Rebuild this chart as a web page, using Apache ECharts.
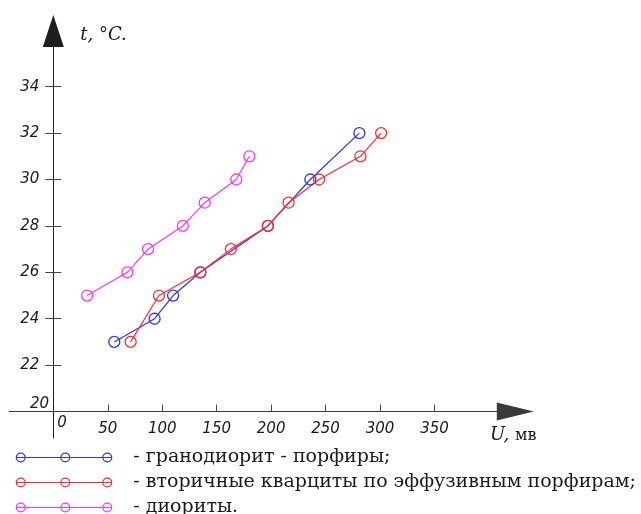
<!DOCTYPE html>
<html><head><meta charset="utf-8">
<script src="https://cdn.jsdelivr.net/npm/echarts@6/dist/echarts.min.js"></script>
<style>html,body{margin:0;padding:0;background:#fff}#c{width:641px;height:514px}</style>
</head><body><div id="c"></div>
<script>
const seriesNames = ['- гранодиорит - порфиры;', '- вторичные кварциты по эффузивным порфирам;', '- диориты.'];
const granodioriteU = [56, 93, 110, 135, 197, 236, 281];
const granodioriteT = [23, 24, 25, 26, 28, 30, 32];
const quartziteU = [71, 97, 135, 163, 197, 216, 244, 282, 301];
const quartziteT = [23, 25, 26, 27, 28, 29, 30, 31, 32];
const dioriteU = [31, 68, 87, 119, 139, 168, 180];
const dioriteT = [25, 26, 27, 28, 29, 30, 31];
const xTicks = [50, 100, 150, 200, 250, 300, 350];
const yTicks = [22, 24, 26, 28, 30, 32, 34];
const yBase = 20;            // temperature where the U axis crosses
const xAxisName = '{i|U,} {n|мв}';
const yAxisName = 't, °C.';
const colors = ['#3030ff', '#ff2b2b', '#ff33ff'];

const uData = [granodioriteU, quartziteU, dioriteU];
const tData = [granodioriteT, quartziteT, dioriteT];

function ring(cx) {
  const r = 5, ri = 3.8;
  return `M${cx - r},5 A${r},${r} 0 1,1 ${cx + r},5 A${r},${r} 0 1,1 ${cx - r},5 Z ` +
         `M${cx - ri},5 A${ri},${ri} 0 1,0 ${cx + ri},5 A${ri},${ri} 0 1,0 ${cx - ri},5 Z `;
}
const iconPath = 'path://' + 'M0,4.45 L96.6,4.45 L96.6,5.55 L0,5.55 Z ' + ring(5) + ring(49.6) + ring(91.6);

const labelFont = { fontFamily: 'DejaVu Sans', fontStyle: 'italic', fontSize: 15, color: '#1a1a1a' };
const tickColor = '#444';
const xMin = -40.4, xMax = 424.2, yMin = -1.14, yMax = 16.40;
const shift = v => v - yBase;

const chart = echarts.init(document.getElementById('c'), null, { renderer: 'canvas' });
chart.setOption({
  animation: false,
  backgroundColor: '#fff',
  grid: { left: 9.3, right: 125.7, top: 31, bottom: 76, containLabel: false, outerBoundsMode: 'none' },
  xAxis: [
    {
      type: 'value', min: xMin, max: xMax, position: 'bottom',
      axisLine: { show: true, onZero: true, onZeroAxisIndex: 0, symbol: ['none', 'triangle'], symbolSize: [18, 37],
        lineStyle: { color: '#3a3a3a', width: 1 } },
      axisTick: { show: true, inside: true, length: 7, customValues: xTicks, lineStyle: { color: tickColor } },
      axisLabel: Object.assign({ customValues: xTicks, margin: -16 }, labelFont),
      splitLine: { show: false },
      name: xAxisName, nameLocation: 'end', nameGap: -2, nameMoveOverlap: false,
      nameTextStyle: { align: 'center', verticalAlign: 'middle', padding: [48, 0, 0, 0],
        fontFamily: 'DejaVu Serif', fontSize: 18, color: '#1a1a1a',
        rich: { i: { fontFamily: 'DejaVu Serif', fontStyle: 'italic', fontSize: 18, color: '#1a1a1a' },
                n: { fontFamily: 'DejaVu Serif', fontSize: 16, color: '#1a1a1a' } } }
    },
    {
      type: 'value', min: xMin, max: xMax, position: 'bottom',
      axisLine: { show: true, onZero: true, onZeroAxisIndex: 0, lineStyle: { opacity: 0 } },
      axisTick: { show: false },
      axisLabel: Object.assign({ customValues: [0], margin: -22, align: 'left', padding: [0, 0, 0, 4] }, labelFont),
      splitLine: { show: false }
    }
  ],
  yAxis: [
    {
      type: 'value', min: yMin, max: yMax, position: 'left',
      axisLine: { show: true, onZero: true, onZeroAxisIndex: 0, symbol: ['none', 'triangle'], symbolSize: [21, 32],
        lineStyle: { color: '#1e1e1e', width: 1 } },
      axisTick: { show: true, inside: false, length: 8, customValues: yTicks.map(shift), lineStyle: { color: tickColor } },
      axisLabel: Object.assign({ customValues: yTicks.map(shift), margin: -30, formatter: v => String(Number(v) + yBase) }, labelFont),
      splitLine: { show: false },
      name: yAxisName, nameLocation: 'end', nameGap: -4, nameMoveOverlap: false,
      nameTextStyle: { align: 'left', verticalAlign: 'middle', padding: [0, 0, 0, 27],
        fontFamily: 'DejaVu Serif', fontStyle: 'italic', fontSize: 18, color: '#1a1a1a' }
    },
    {
      type: 'value', min: yMin, max: yMax, position: 'left',
      axisLine: { show: true, onZero: true, onZeroAxisIndex: 0, lineStyle: { opacity: 0 } },
      axisTick: { show: true, inside: true, length: 8, customValues: yTicks.map(shift), lineStyle: { color: tickColor } },
      axisLabel: Object.assign({ customValues: [shift(yBase)], margin: -39.7, verticalAlign: 'bottom', formatter: v => String(Number(v) + yBase) }, labelFont),
      splitLine: { show: false }
    }
  ],
  legend: {
    orient: 'vertical', left: 15.7, top: 448, height: 90, padding: 0, itemWidth: 96.6, itemHeight: 10, itemGap: 6,
    selectedMode: false, icon: iconPath,
    textStyle: { fontFamily: 'DejaVu Serif', fontSize: 19, color: '#1a1a1a', padding: [0, 0, 0, 16] },
    data: seriesNames.map((n, i) => ({ name: n, itemStyle: { color: colors[i], borderWidth: 0 } }))
  },
  series: seriesNames.map((n, i) => ({
    name: n, type: 'line', xAxisIndex: 0, yAxisIndex: 0,
    data: uData[i].map((u, j) => [u, shift(tData[i][j])]),
    symbol: 'circle', symbolSize: 11, clip: false,
    lineStyle: { color: colors[i], width: 1.2 },
    itemStyle: { color: 'rgba(255,255,255,0)', borderColor: colors[i], borderWidth: 1.3 },
    emphasis: { disabled: true }
  }))
});
</script></body></html>
